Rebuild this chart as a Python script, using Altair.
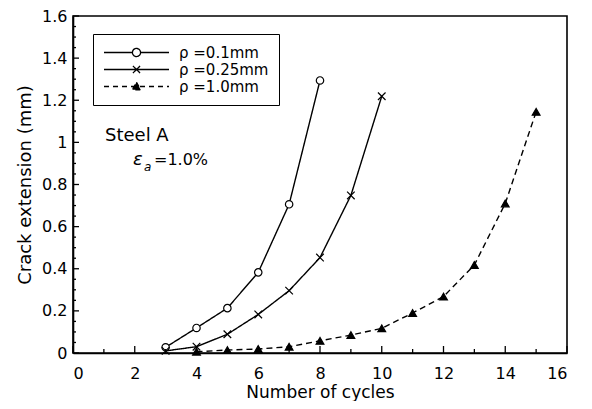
import altair as alt
import pandas as pd

# ---- data ----
series_names = ["ρ =0.1mm", "ρ =0.25mm", "ρ =1.0mm"]
cycles_01 = [3, 4, 5, 6, 7, 8]
ext_01 = [0.027, 0.119, 0.213, 0.383, 0.706, 1.294]
cycles_025 = [3, 4, 5, 6, 7, 8, 9, 10]
ext_025 = [0.01, 0.03, 0.089, 0.183, 0.296, 0.453, 0.748, 1.219]
cycles_10 = [4, 5, 6, 7, 8, 9, 10, 11, 12, 13, 14, 15]
ext_10 = [0.006, 0.014, 0.019, 0.03, 0.058, 0.085, 0.117, 0.19, 0.268, 0.418, 0.71, 1.145]

x_major_ticks = [0, 2, 4, 6, 8, 10, 12, 14, 16]
x_minor_ticks = [1, 3, 5, 7, 9, 11, 13, 15]
y_major_ticks = [0, 0.2, 0.4, 0.6, 0.8, 1.0, 1.2, 1.4, 1.6]
y_minor_ticks = [0.05, 0.1, 0.15, 0.25, 0.3, 0.35, 0.45, 0.5, 0.55, 0.65, 0.7, 0.75,
                 0.85, 0.9, 0.95, 1.05, 1.1, 1.15, 1.25, 1.3, 1.35, 1.45, 1.5, 1.55]

annot_steel = ["Steel A"]
annot_eps = ["ε"]
annot_sub = ["a"]
annot_val = ["=1.0%"]

rows = []
for name, xs, ys in [(series_names[0], cycles_01, ext_01),
                     (series_names[1], cycles_025, ext_025),
                     (series_names[2], cycles_10, ext_10)]:
    for xv, yv in zip(xs, ys):
        rows.append({"series": name, "cycles": xv, "ext": yv})
df = pd.DataFrame(rows)

FONT = "DejaVu Sans"
W, H = 494, 337

cross_path = "M-1,-1L1,1M-1,1L1,-1"
leg_circle = ("M-1,0L-0.125,0M0.125,0L1,0"
              "M-0.125,0A0.125,0.125,0,1,0,0.125,0A0.125,0.125,0,1,0,-0.125,0Z")
leg_cross = "M-1,0L1,0M-0.11,-0.11L0.11,0.11M-0.11,0.11L0.11,-0.11"
leg_tri = "M-1,0L1,0M0,-0.13L0.13,0.1L-0.13,0.1Z"

xscale = alt.Scale(domain=[0, 16], nice=False)
yscale = alt.Scale(domain=[0, 1.6], nice=False)

xaxis = alt.Axis(
    values=x_major_ticks,
    ticks=False,
    labelPadding=12,
    labelFontSize=16,
    title="Number of cycles",
    titleFontSize=17,
    titlePadding=3,
    grid=False,
)
yaxis = alt.Axis(
    values=y_major_ticks,
    format=".1~f",
    ticks=False,
    labelPadding=6,
    labelFontSize=16,
    title="Crack extension (mm)",
    titleFontSize=18,
    titlePadding=7,
    grid=False,
)


def make_legend():
    return alt.Legend(
        title=None,
        orient="none",
        legendX=20,
        legendY=18,
        symbolSize=4225,
        clipHeight=17,
        rowPadding=0,
        labelOffset=9,
        padding=10,
        strokeColor="black",
        fillColor="white",
        symbolStrokeWidth=1.3,
        symbolStrokeColor="black",
        symbolOpacity=1,
        labelFont=FONT,
        labelFontSize=15,
        labelColor="black",
    )


base = alt.Chart(df)
X = alt.X("cycles:Q", scale=xscale, axis=xaxis)
Y = alt.Y("ext:Q", scale=yscale, axis=yaxis)

lines = base.mark_line(color="black", strokeWidth=1.4).encode(
    x=X, y=Y,
    strokeDash=alt.StrokeDash("series:N", scale=alt.Scale(domain=series_names, range=[[1, 0], [1, 0], [6, 4]]), legend=None),
    detail="series:N",
)

points = base.mark_point(stroke="black", strokeWidth=1.2, opacity=1).encode(
    x=X, y=Y,
    shape=alt.Shape("series:N", scale=alt.Scale(domain=series_names, range=["circle", cross_path, "triangle-up"]), legend=None),
    fill=alt.Fill("series:N", scale=alt.Scale(domain=series_names, range=["white", "transparent", "black"]), legend=None),
    size=alt.Size("series:N", scale=alt.Scale(domain=series_names, range=[55, 60, 65]), legend=None),
)

# legend-only layer (no rows drawn); its scales carry the legend symbols
legend_layer = base.transform_filter("false").mark_point(strokeWidth=1.3, opacity=1, filled=False).encode(
    x=X, y=Y,
    shape=alt.Shape("series:N", scale=alt.Scale(domain=series_names, range=[leg_circle, leg_cross, leg_tri]), legend=make_legend()),
    fill=alt.Fill("series:N", scale=alt.Scale(domain=series_names, range=["white", "transparent", "black"]), legend=make_legend()),
    stroke=alt.Stroke("series:N", scale=alt.Scale(domain=series_names, range=["black", "black", "black"]), legend=make_legend()),
    strokeDash=alt.StrokeDash("series:N", scale=alt.Scale(domain=series_names, range=[[1, 0], [1, 0], [5, 4]]), legend=make_legend()),
)

# inward axis ticks
TICK_COLOR = "black"
xt_major = alt.Chart(pd.DataFrame({"v": x_major_ticks})).mark_rule(color=TICK_COLOR, strokeWidth=1.3).encode(
    x=alt.X("v:Q", scale=xscale, axis=xaxis), y=alt.value(H), y2=alt.value(H - 7))
xt_minor = alt.Chart(pd.DataFrame({"v": x_minor_ticks})).mark_rule(color=TICK_COLOR, strokeWidth=1.3).encode(
    x=alt.X("v:Q", scale=xscale, axis=xaxis), y=alt.value(H), y2=alt.value(H - 4))
yt_major = alt.Chart(pd.DataFrame({"v": y_major_ticks})).mark_rule(color=TICK_COLOR, strokeWidth=1.3).encode(
    y=alt.Y("v:Q", scale=yscale, axis=yaxis), x=alt.value(0), x2=alt.value(6))
yt_minor = alt.Chart(pd.DataFrame({"v": y_minor_ticks})).mark_rule(color=TICK_COLOR, strokeWidth=1.3).encode(
    y=alt.Y("v:Q", scale=yscale, axis=yaxis), x=alt.value(0), x2=alt.value(3))

t1 = alt.Chart(pd.DataFrame({"t": annot_steel})).mark_text(
    font=FONT, fontSize=18, align="left", baseline="middle", color="black"
).encode(text="t:N", x=alt.value(32), y=alt.value(120))
t2 = alt.Chart(pd.DataFrame({"t": annot_eps})).mark_text(
    font=FONT, fontSize=18, fontStyle="italic", align="left", baseline="middle", color="black"
).encode(text="t:N", x=alt.value(60), y=alt.value(144))
t3 = alt.Chart(pd.DataFrame({"t": annot_sub})).mark_text(
    font=FONT, fontSize=12, fontStyle="italic", align="left", baseline="middle", color="black"
).encode(text="t:N", x=alt.value(71), y=alt.value(151))
t4 = alt.Chart(pd.DataFrame({"t": annot_val})).mark_text(
    font=FONT, fontSize=16, align="left", baseline="middle", color="black"
).encode(text="t:N", x=alt.value(81), y=alt.value(144))

chart = alt.layer(
    lines, points, legend_layer, xt_major, xt_minor, yt_major, yt_minor, t1, t2, t3, t4
).resolve_scale(
    shape="independent", fill="independent", strokeDash="independent", size="independent", stroke="independent"
).properties(
    width=W,
    height=H,
    autosize=alt.AutoSizeParams(type="none"),
    padding={"left": 65, "top": 8, "right": 17, "bottom": 48},
).configure_view(
    stroke="black", strokeWidth=1.6
).configure_axis(
    labelFont=FONT, labelColor="black",
    titleFont=FONT, titleFontWeight="normal", titleColor="black",
    domainColor="black", domainWidth=1.6,
)

chart.save("out.html", embed_options={"renderer": "svg", "actions": False})
